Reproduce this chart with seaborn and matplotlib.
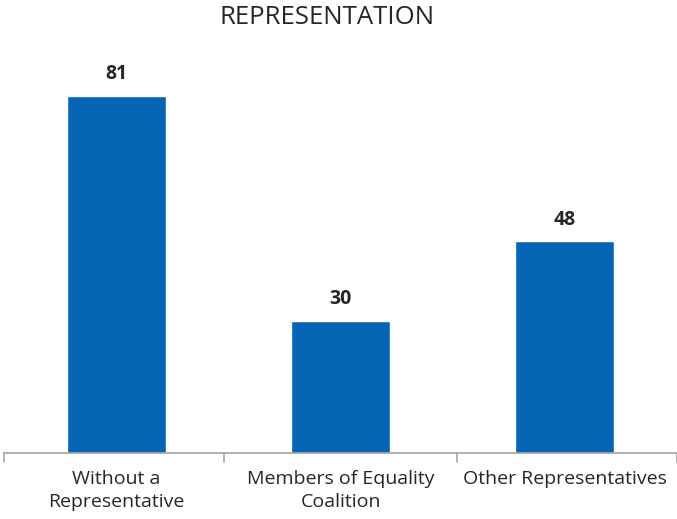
import matplotlib
matplotlib.use("Agg")
import matplotlib.pyplot as plt
import seaborn as sns
import pandas as pd

categories = ["Without a\nRepresentative", "Members of Equality\nCoalition", "Other Representatives"]
values = [81, 30, 48]
title = "REPRESENTATION"

df = pd.DataFrame({"category": categories, "value": values})

sns.set_theme(style="white")
plt.rcParams["font.family"] = ["Open Sans", "DejaVu Sans"]

fig = plt.figure(figsize=(6.77, 5.19), dpi=100)
ax = fig.add_axes([4 / 677, 66 / 519, 673 / 677, 393 / 519])

sns.barplot(data=df, x="category", y="value", color="#0565B5", width=0.44,
            saturation=1, ax=ax)

ax.set_ylim(0, 89.1)
ax.set_xlim(-0.5, 2.5)
ax.set_xlabel("")
ax.set_ylabel("")
ax.set_yticks([])

for s in ["top", "right", "left"]:
    ax.spines[s].set_visible(False)
ax.spines["bottom"].set_color("#a6a6a6")
ax.spines["bottom"].set_linewidth(1.2)

# category labels, with short separators between categories
ax.set_xticks([0, 1, 2])
ax.set_xticklabels(categories, fontsize=14, color="#262626", linespacing=1.38)
ax.tick_params(axis="x", length=0, pad=12)
for xb in [-0.5, 0.48, 1.52, 2.5]:
    ax.plot([xb, xb], [0, -2.1], color="#a6a6a6", lw=1.2, clip_on=False)

for i, v in enumerate(values):
    ax.text(i, v + 2.6, f"{v}", ha="center", va="bottom", fontsize=14,
            fontweight="bold", color="#262626")

fig.text(327 / 677, 1 - 17 / 519, title, ha="center", va="center",
         fontsize=18.5, color="#262626")

fig.savefig("out.png", dpi=100)
